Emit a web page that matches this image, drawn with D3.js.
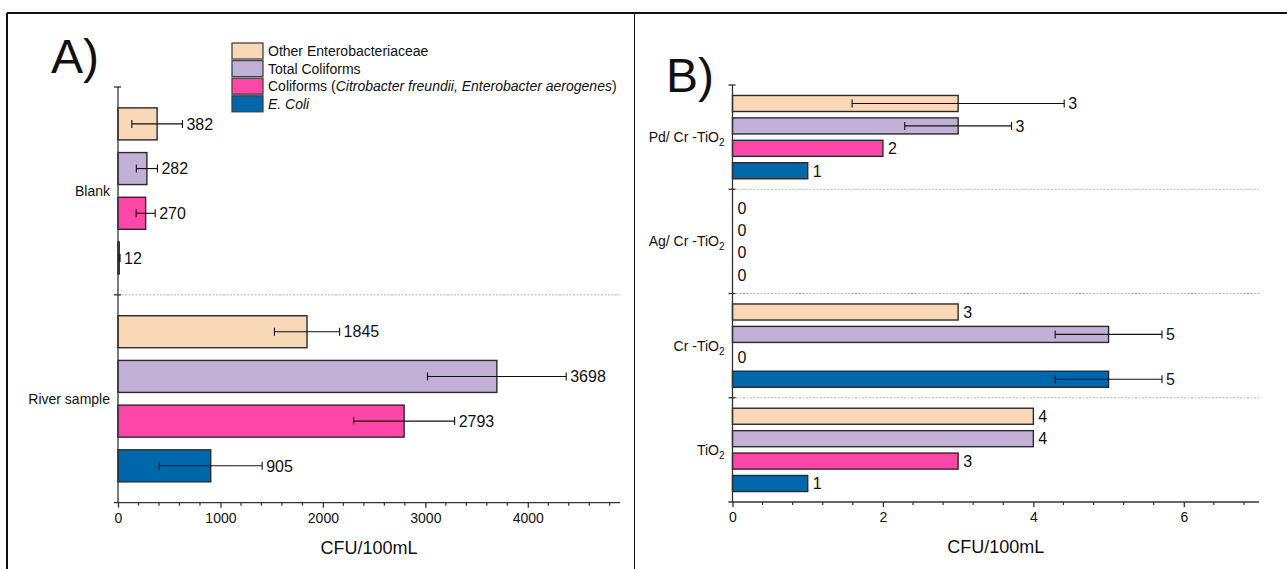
<!DOCTYPE html>
<html>
<head>
<meta charset="utf-8">
<script src="https://cdn.jsdelivr.net/npm/d3@7"></script>
<style>
  body { margin: 0; background: #fff; }
  svg { display: block; font-family: "Liberation Sans", Arial, sans-serif; }
</style>
</head>
<body>
<div id="chart"></div>
<script>
// series (same order in both panels, top to bottom inside a group)
var series = ["Other Enterobacteriaceae", "Total Coliforms", "Coliforms", "E. Coli"];
var colors = ["#f9d8b8", "#c1b1d6", "#ff47a8", "#0067aa"];

// panel A
var groupsA = ["Blank", "River sample"];
var blankVals = [382, 282, 270, 12];
var blankErr = [247, 103, 93, 8];
var riverVals = [1845, 3698, 2793, 905];
var riverErr = [318, 677, 493, 502];
var ticksA = [0, 1000, 2000, 3000, 4000];

// panel B
var groupsB = ["Pd/ Cr -TiO", "Ag/ Cr -TiO", "Cr -TiO", "TiO"];
var pdVals = [3, 3, 2, 1];
var pdErr = [1.41, 0.71, 0, 0];
var agVals = [0, 0, 0, 0];
var agErr = [0, 0, 0, 0];
var crVals = [3, 5, 0, 5];
var crErr = [0, 0.71, 0, 0.71];
var tiVals = [4, 4, 3, 1];
var tiErr = [0, 0, 0, 0];
var ticksB = [0, 2, 4, 6];

var W = 1287, H = 569;

var svg = d3.select("#chart").append("svg")
    .attr("width", W)
    .attr("height", H);

// outer frame + divider
svg.append("line").attr("x1", 7).attr("x2", W).attr("y1", 13).attr("y2", 13)
    .attr("stroke", "#111").attr("stroke-width", 2);
svg.append("line").attr("x1", 7).attr("x2", 7).attr("y1", 13).attr("y2", H)
    .attr("stroke", "#111").attr("stroke-width", 2);
svg.append("line").attr("x1", 634.5).attr("x2", 634.5).attr("y1", 13).attr("y2", H)
    .attr("stroke", "#111").attr("stroke-width", 1);

function panel(opt) {
    var g = svg.append("g");

    var x = d3.scaleLinear().domain(opt.xDomain).range([opt.left, opt.right]);
    var y = d3.scaleBand().domain(opt.groups).range([opt.top, opt.bottom]);
    var inner = d3.scaleBand().domain(d3.range(series.length))
        .range([0, y.bandwidth()]).paddingInner(0.284).paddingOuter(0.467);

    var rows = [];
    opt.groups.forEach(function(gr, gi) {
        opt.vals[gi].forEach(function(v, si) {
            rows.push({group: gr, s: si, v: v, e: opt.errs[gi][si]});
        });
    });

    // dotted separators between groups
    g.selectAll("line.sep")
        .data(opt.groups.slice(1))
      .enter().append("line")
        .attr("class", "sep")
        .attr("x1", opt.left).attr("x2", opt.right)
        .attr("y1", function(d) { return y(d); })
        .attr("y2", function(d) { return y(d); })
        .attr("stroke", "#b5b5b5").attr("stroke-width", 1)
        .attr("stroke-dasharray", "2,1.5");

    // bars
    g.selectAll("rect.bar")
        .data(rows.filter(function(d) { return d.v > 0; }))
      .enter().append("rect")
        .attr("class", "bar")
        .attr("x", x(0))
        .attr("y", function(d) { return y(d.group) + inner(d.s); })
        .attr("width", function(d) { return x(d.v) - x(0); })
        .attr("height", inner.bandwidth())
        .attr("fill", function(d) { return colors[d.s]; })
        .attr("stroke", "#2a2a2a")
        .attr("stroke-width", 1.4);

    // error bars
    var eb = g.selectAll("g.err")
        .data(rows.filter(function(d) { return d.e > 0; }))
      .enter().append("g")
        .attr("class", "err")
        .attr("transform", function(d) {
            return "translate(0," + (y(d.group) + inner(d.s) + inner.bandwidth() / 2) + ")";
        })
        .attr("stroke", "#111").attr("stroke-width", 1.1);
    eb.append("line")
        .attr("x1", function(d) { return x(d.v - d.e); })
        .attr("x2", function(d) { return x(d.v + d.e); });
    eb.append("line")
        .attr("x1", function(d) { return x(d.v - d.e); })
        .attr("x2", function(d) { return x(d.v - d.e); })
        .attr("y1", -4).attr("y2", 4);
    eb.append("line")
        .attr("x1", function(d) { return x(d.v + d.e); })
        .attr("x2", function(d) { return x(d.v + d.e); })
        .attr("y1", -4).attr("y2", 4);

    // value labels
    g.selectAll("text.val")
        .data(rows)
      .enter().append("text")
        .attr("class", "val")
        .attr("x", function(d) { return x(d.v + d.e) + (d.e > 0 ? 4 : 5); })
        .attr("y", function(d) { return y(d.group) + inner(d.s) + inner.bandwidth() / 2; })
        .attr("dy", "0.36em")
        .attr("font-size", 16)
        .attr("fill", "#111")
        .text(function(d) { return d3.format("d")(d.v); });

    // x axis
    var xAxis = g.append("g")
        .attr("transform", "translate(0," + opt.bottom + ")")
        .call(d3.axisBottom(x).tickValues(opt.ticks).tickSize(5).tickPadding(5)
            .tickFormat(d3.format("d")));
    xAxis.select(".domain").attr("stroke", "#333").attr("stroke-width", 1.3)
        .attr("d", "M" + (opt.left - 4) + ",0H" + opt.right);
    xAxis.selectAll(".tick line").attr("stroke", "#333").attr("stroke-width", 1.3);
    xAxis.selectAll(".tick text").attr("font-size", 14).attr("fill", "#111")
        .attr("font-family", "Liberation Sans, Arial, sans-serif");
    var minor = d3.range(opt.xDomain[0], opt.xDomain[1], opt.minorStep)
        .filter(function(v) { return opt.ticks.indexOf(v) < 0; });
    g.selectAll("line.minor")
        .data(minor)
      .enter().append("line")
        .attr("class", "minor")
        .attr("x1", function(d) { return x(d); })
        .attr("x2", function(d) { return x(d); })
        .attr("y1", opt.bottom).attr("y2", opt.bottom + 3)
        .attr("stroke", "#333").attr("stroke-width", 1.2);

    // y axis with ticks at group borders
    g.append("line")
        .attr("x1", x(0)).attr("x2", x(0))
        .attr("y1", opt.top).attr("y2", opt.bottom)
        .attr("stroke", "#333").attr("stroke-width", 1.3);
    var borders = opt.groups.map(function(d) { return y(d); });
    g.selectAll("line.ytick")
        .data(borders)
      .enter().append("line")
        .attr("class", "ytick")
        .attr("x1", x(0) - 4).attr("x2", x(0) + 3)
        .attr("y1", function(d) { return d; })
        .attr("y2", function(d) { return d; })
        .attr("stroke", "#333").attr("stroke-width", 1.3);

    // category labels
    var cl = g.selectAll("text.cat")
        .data(opt.groups)
      .enter().append("text")
        .attr("class", "cat")
        .attr("x", x(0) - 8)
        .attr("y", function(d) { return y(d) + y.bandwidth() / 2; })
        .attr("dy", "0.36em")
        .attr("text-anchor", "end")
        .attr("font-size", 14)
        .attr("fill", "#111");
    cl.append("tspan").text(function(d) { return d; });
    if (opt.sub) {
        cl.append("tspan").attr("font-size", 10).attr("dy", 4).text("2");
    }

    // axis title
    g.append("text")
        .attr("x", (opt.left + opt.right) / 2)
        .attr("y", opt.bottom + 51)
        .attr("text-anchor", "middle")
        .attr("font-size", 18)
        .attr("fill", "#111")
        .text("CFU/100mL");

    // panel letter
    g.append("text")
        .attr("x", opt.letterX).attr("y", opt.letterY)
        .attr("font-size", 48)
        .attr("fill", "#111")
        .text(opt.letter);
}

panel({
    groups: groupsA,
    vals: [blankVals, riverVals],
    errs: [blankErr, riverErr],
    xDomain: [0, 4900], ticks: ticksA, minorStep: 200,
    left: 118, right: 620, top: 87, bottom: 502.7,
    letter: "A)", letterX: 51, letterY: 73, sub: false
});

panel({
    groups: groupsB,
    vals: [pdVals, agVals, crVals, tiVals],
    errs: [pdErr, agErr, crErr, tiErr],
    xDomain: [0, 7], ticks: ticksB, minorStep: 0.4,
    left: 732.5, right: 1259, top: 85, bottom: 502,
    letter: "B)", letterX: 666, letterY: 92, sub: true
});

// legend
var legend = svg.append("g").attr("transform", "translate(232,43)");
var li = legend.selectAll("g")
    .data(series)
  .enter().append("g")
    .attr("transform", function(d, i) { return "translate(0," + i * 17.6 + ")"; });
li.append("rect")
    .attr("width", 31).attr("height", 16)
    .attr("fill", function(d, i) { return colors[i]; })
    .attr("stroke", "#444").attr("stroke-width", 1.3);
var lt = li.append("text")
    .attr("x", 36).attr("y", 8).attr("dy", "0.36em")
    .attr("font-size", 14)
    .attr("fill", "#111");
lt.each(function(d, i) {
    var t = d3.select(this);
    if (i === 2) {
        t.append("tspan").text("Coliforms (");
        t.append("tspan").attr("font-style", "italic").text("Citrobacter freundii, Enterobacter aerogenes");
        t.append("tspan").text(")");
    } else if (i === 3) {
        t.append("tspan").attr("font-style", "italic").text(d);
    } else {
        t.append("tspan").text(d);
    }
});
</script>
</body>
</html>
